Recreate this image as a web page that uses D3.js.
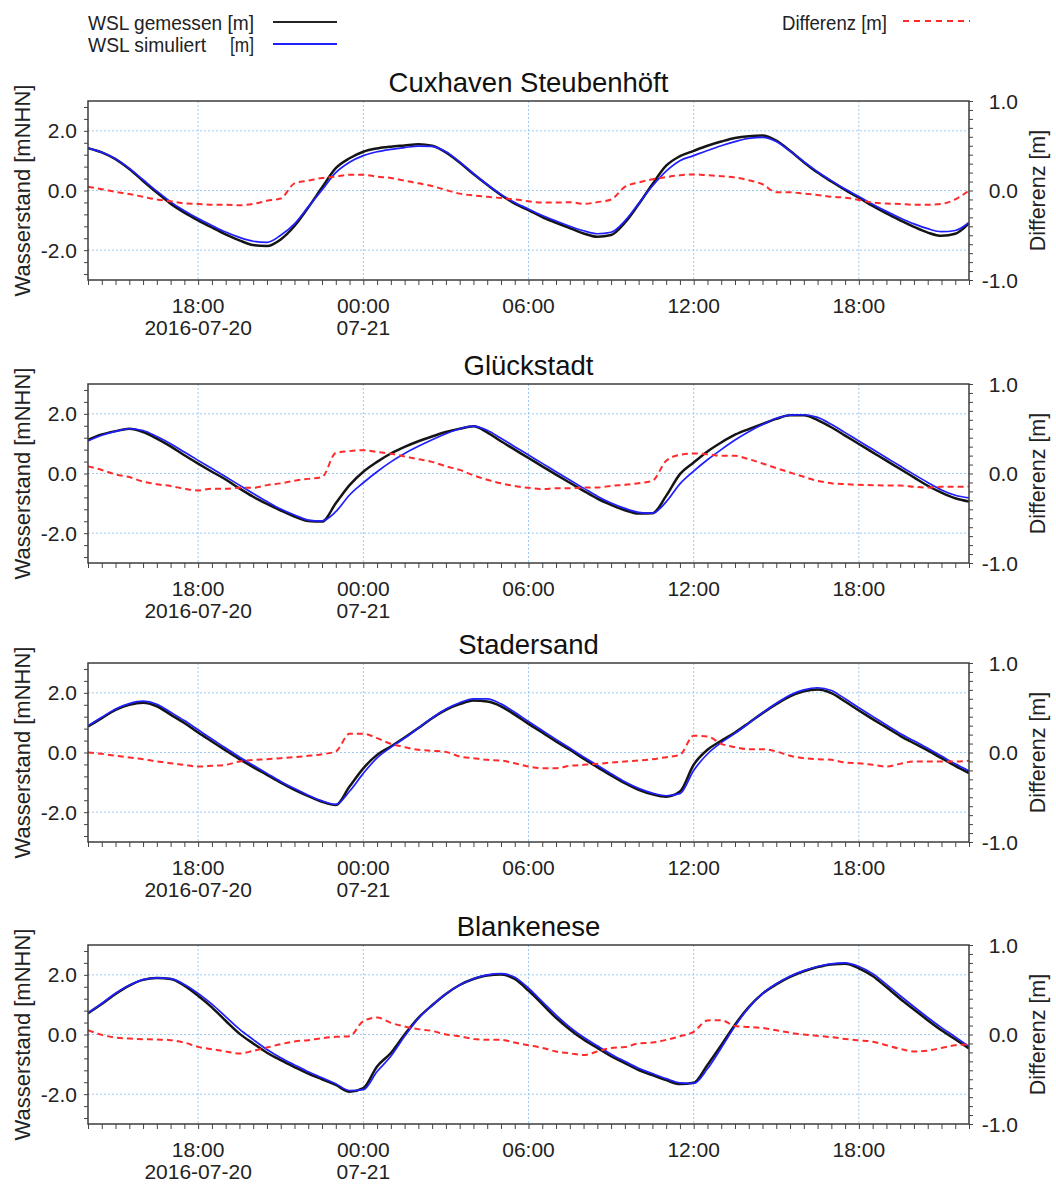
<!DOCTYPE html>
<html>
<head>
<meta charset="utf-8">
<script src="https://cdn.jsdelivr.net/npm/d3@7"></script>
<style>
  body { margin: 0; background: #fff; }
  svg { display: block; font-family: "Liberation Sans", Arial, sans-serif; }
</style>
</head>
<body>
<div id="chart"></div>
<script>
// half-hourly values, 2016-07-20 14:00 .. 2016-07-21 22:00
var startTime = new Date(2016, 6, 20, 14, 0);
var stepMinutes = 30;

var stations = ["Cuxhaven Steubenhöft", "Glückstadt", "Stadersand", "Blankenese"];

var cuxGemessen = [1.42,1.28,1.05,0.72,0.32,-0.07,-0.44,-0.74,-1.00,-1.24,-1.47,-1.67,-1.83,-1.86,-1.64,-1.19,-0.57,0.10,0.75,1.08,1.30,1.41,1.47,1.51,1.55,1.50,1.28,0.94,0.55,0.19,-0.15,-0.44,-0.66,-0.89,-1.08,-1.26,-1.44,-1.55,-1.49,-1.08,-0.46,0.21,0.83,1.15,1.33,1.50,1.64,1.76,1.82,1.84,1.67,1.33,0.95,0.60,0.30,0.02,-0.24,-0.52,-0.77,-1.00,-1.22,-1.41,-1.52,-1.45,-1.10];
var cuxSimuliert = [1.42,1.28,1.06,0.74,0.36,-0.02,-0.38,-0.68,-0.94,-1.17,-1.39,-1.57,-1.70,-1.74,-1.50,-1.12,-0.55,0.02,0.60,0.95,1.17,1.30,1.38,1.44,1.49,1.48,1.30,0.96,0.57,0.20,-0.13,-0.40,-0.62,-0.84,-1.02,-1.20,-1.35,-1.45,-1.40,-1.02,-0.44,0.15,0.65,1.00,1.17,1.34,1.50,1.64,1.75,1.78,1.64,1.32,0.97,0.63,0.33,0.05,-0.20,-0.46,-0.70,-0.92,-1.12,-1.28,-1.38,-1.34,-1.07];
var cuxDiff = [0.04,0.015,-0.015,-0.04,-0.07,-0.10,-0.12,-0.145,-0.15,-0.16,-0.16,-0.165,-0.15,-0.115,-0.09,0.08,0.11,0.14,0.155,0.175,0.175,0.155,0.14,0.11,0.08,0.05,0.005,-0.035,-0.055,-0.07,-0.085,-0.10,-0.12,-0.135,-0.135,-0.13,-0.15,-0.13,-0.10,0.04,0.09,0.125,0.15,0.17,0.18,0.17,0.16,0.145,0.115,0.07,-0.02,-0.02,-0.035,-0.05,-0.07,-0.08,-0.105,-0.135,-0.145,-0.15,-0.16,-0.16,-0.15,-0.10,0.0];

var glueGemessen = [1.13,1.31,1.42,1.50,1.39,1.17,0.91,0.61,0.33,0.06,-0.20,-0.50,-0.78,-1.02,-1.24,-1.44,-1.59,-1.61,-1.00,-0.39,0.06,0.39,0.67,0.89,1.08,1.24,1.39,1.50,1.58,1.38,1.08,0.80,0.52,0.24,-0.04,-0.31,-0.58,-0.84,-1.05,-1.23,-1.34,-1.33,-0.75,-0.02,0.37,0.74,1.04,1.30,1.49,1.66,1.83,1.95,1.95,1.79,1.55,1.27,0.99,0.71,0.43,0.15,-0.13,-0.41,-0.64,-0.83,-0.94];
var glueSimuliert = [1.09,1.28,1.41,1.50,1.44,1.24,1.00,0.72,0.44,0.17,-0.11,-0.39,-0.67,-0.94,-1.19,-1.39,-1.56,-1.59,-1.28,-0.72,-0.31,0.06,0.39,0.67,0.91,1.13,1.33,1.50,1.59,1.45,1.18,0.90,0.62,0.34,0.06,-0.22,-0.49,-0.76,-0.99,-1.17,-1.30,-1.33,-0.95,-0.35,0.08,0.46,0.80,1.12,1.40,1.64,1.85,1.96,1.97,1.88,1.65,1.37,1.09,0.81,0.53,0.25,-0.03,-0.30,-0.55,-0.73,-0.82];
var glueDiff = [0.08,0.04,-0.01,-0.04,-0.09,-0.12,-0.14,-0.17,-0.19,-0.17,-0.17,-0.16,-0.16,-0.13,-0.11,-0.08,-0.06,-0.04,0.23,0.25,0.26,0.24,0.22,0.19,0.16,0.13,0.08,0.04,-0.02,-0.07,-0.11,-0.14,-0.16,-0.175,-0.165,-0.165,-0.157,-0.157,-0.138,-0.127,-0.108,-0.082,0.142,0.209,0.224,0.216,0.198,0.198,0.16,0.112,0.06,0.011,-0.037,-0.082,-0.108,-0.119,-0.127,-0.13,-0.134,-0.134,-0.149,-0.157,-0.149,-0.149,-0.145];

var stadGemessen = [0.87,1.15,1.43,1.60,1.67,1.55,1.27,0.99,0.67,0.37,0.07,-0.22,-0.49,-0.75,-1.01,-1.25,-1.46,-1.65,-1.76,-1.14,-0.53,-0.08,0.20,0.50,0.82,1.15,1.43,1.62,1.74,1.71,1.55,1.27,0.96,0.67,0.37,0.09,-0.21,-0.49,-0.77,-1.03,-1.25,-1.40,-1.48,-1.31,-0.41,0.09,0.39,0.67,0.99,1.32,1.62,1.88,2.05,2.11,1.99,1.71,1.41,1.12,0.84,0.56,0.31,0.07,-0.19,-0.45,-0.69];
var stadSimuliert = [0.90,1.18,1.46,1.64,1.72,1.62,1.35,1.07,0.76,0.45,0.15,-0.15,-0.43,-0.70,-0.97,-1.21,-1.43,-1.62,-1.74,-1.30,-0.70,-0.18,0.17,0.48,0.82,1.16,1.46,1.67,1.80,1.80,1.63,1.35,1.04,0.74,0.44,0.15,-0.15,-0.43,-0.71,-0.98,-1.20,-1.36,-1.45,-1.38,-0.60,-0.05,0.33,0.64,0.98,1.33,1.65,1.93,2.10,2.17,2.08,1.80,1.50,1.21,0.92,0.64,0.39,0.14,-0.12,-0.38,-0.62];
var stadDiff = [0,-0.015,-0.037,-0.056,-0.075,-0.10,-0.12,-0.138,-0.157,-0.149,-0.138,-0.10,-0.082,-0.075,-0.063,-0.052,-0.037,-0.019,0.011,0.209,0.209,0.16,0.097,0.06,0.03,0.019,0.007,-0.045,-0.063,-0.082,-0.09,-0.12,-0.157,-0.175,-0.175,-0.149,-0.138,-0.127,-0.112,-0.10,-0.09,-0.075,-0.052,-0.026,0.187,0.179,0.097,0.06,0.037,0.037,0.011,-0.037,-0.063,-0.075,-0.082,-0.112,-0.12,-0.138,-0.157,-0.127,-0.10,-0.10,-0.10,-0.10,-0.093];

var blanGemessen = [0.71,1.02,1.36,1.64,1.83,1.89,1.86,1.64,1.30,0.91,0.46,0.03,-0.30,-0.61,-0.86,-1.09,-1.31,-1.50,-1.69,-1.92,-1.80,-1.07,-0.62,0.00,0.56,0.98,1.36,1.66,1.86,1.98,2.01,1.86,1.47,1.02,0.56,0.17,-0.17,-0.45,-0.73,-0.96,-1.19,-1.36,-1.53,-1.66,-1.62,-1.02,-0.36,0.33,0.92,1.37,1.68,1.93,2.12,2.26,2.35,2.37,2.22,1.96,1.59,1.20,0.84,0.48,0.14,-0.16,-0.47];
var blanSimuliert = [0.73,1.04,1.38,1.65,1.84,1.90,1.87,1.68,1.38,1.02,0.60,0.18,-0.17,-0.50,-0.78,-1.02,-1.25,-1.45,-1.65,-1.88,-1.85,-1.24,-0.73,-0.06,0.54,0.98,1.36,1.66,1.87,2.00,2.04,1.92,1.55,1.10,0.65,0.25,-0.09,-0.38,-0.66,-0.90,-1.13,-1.31,-1.48,-1.62,-1.64,-1.15,-0.45,0.28,0.90,1.37,1.70,1.95,2.14,2.28,2.37,2.40,2.28,2.04,1.68,1.30,0.93,0.57,0.23,-0.08,-0.40];
var blanDiff = [0.049,-0.004,-0.034,-0.045,-0.052,-0.056,-0.063,-0.09,-0.138,-0.164,-0.19,-0.213,-0.183,-0.146,-0.108,-0.078,-0.063,-0.041,-0.026,-0.02,0.15,0.19,0.13,0.09,0.06,0.04,0.0,-0.02,-0.05,-0.06,-0.06,-0.09,-0.12,-0.15,-0.19,-0.21,-0.23,-0.19,-0.15,-0.14,-0.10,-0.09,-0.06,-0.02,0.03,0.157,0.16,0.095,0.084,0.073,0.048,0.02,0.0,-0.015,-0.03,-0.05,-0.066,-0.08,-0.12,-0.16,-0.19,-0.18,-0.15,-0.12,-0.11];

var gemessenSeries = [cuxGemessen, glueGemessen, stadGemessen, blanGemessen];
var simuliertSeries = [cuxSimuliert, glueSimuliert, stadSimuliert, blanSimuliert];
var diffSeries = [cuxDiff, glueDiff, stadDiff, blanDiff];

var xTickTimes = [new Date(2016, 6, 20, 18), new Date(2016, 6, 21, 0), new Date(2016, 6, 21, 6), new Date(2016, 6, 21, 12), new Date(2016, 6, 21, 18)];
var xTickLabels = [["18:00", "2016-07-20"], ["00:00", "07-21"], ["06:00"], ["12:00"], ["18:00"]];
var levelTicks = [-2, 0, 2];
var diffTicks = [-1, 0, 1];

var W = 1056, H = 1184;
var plotLeft = 88, plotRight = 969, plotH = 179;
var panelTops = [101, 384, 663, 945];

var svg = d3.select('#chart').append('svg')
  .attr('width', W)
  .attr('height', H);

svg.append('rect').attr('width', W).attr('height', H).attr('fill', '#fff');

var endTime = d3.timeMinute.offset(startTime, stepMinutes * (cuxGemessen.length - 1));
var times = cuxGemessen.map((d, i) => d3.timeMinute.offset(startTime, stepMinutes * i));

var x = d3.scaleTime()
  .domain([startTime, endTime])
  .range([plotLeft, plotRight]);

stations.forEach(function (name, p) {
  var top = panelTops[p];
  var bottom = top + plotH;

  var y = d3.scaleLinear().domain([-3, 3]).range([bottom, top]);
  var yDiff = d3.scaleLinear().domain([-1, 1]).range([bottom, top]);

  var g = svg.append('g');

  // grid
  g.selectAll('.gx').data(xTickTimes).enter().append('line')
    .attr('x1', d => x(d)).attr('x2', d => x(d))
    .attr('y1', top).attr('y2', bottom)
    .attr('stroke', '#9ccaf3').attr('stroke-width', 1)
    .attr('stroke-dasharray', '2,2');
  g.selectAll('.gy').data(levelTicks).enter().append('line')
    .attr('x1', plotLeft).attr('x2', plotRight)
    .attr('y1', d => y(d)).attr('y2', d => y(d))
    .attr('stroke', '#9ccaf3').attr('stroke-width', 1)
    .attr('stroke-dasharray', '2,2');

  // ticks
  var axL = g.append('g').attr('transform', `translate(${plotLeft},0)`)
    .call(d3.axisLeft(y).tickValues(d3.range(-2.8, 2.81, 0.4)).tickSize(4).tickFormat(''));
  var axR = g.append('g').attr('transform', `translate(${plotRight},0)`)
    .call(d3.axisRight(yDiff).tickValues(d3.range(-10, 11).map(k => k / 10)).tickSize(4).tickFormat(''));
  var axB = g.append('g').attr('transform', `translate(0,${bottom})`)
    .call(d3.axisBottom(x).ticks(d3.timeMinute.every(30)).tickSize(5).tickFormat(''));
  [axL, axR, axB].forEach(function (a) {
    a.select('.domain').remove();
    a.selectAll('line').attr('stroke', '#444').attr('stroke-width', 1);
  });

  // lines
  var lineLevel = d3.line().x((d, i) => x(times[i])).y(d => y(d)).curve(d3.curveMonotoneX);
  var lineDiff = d3.line().x((d, i) => x(times[i])).y(d => yDiff(d)).curve(d3.curveMonotoneX);

  var clipId = 'clip' + p;
  g.append('clipPath').attr('id', clipId).append('rect')
    .attr('x', plotLeft).attr('y', top).attr('width', plotRight - plotLeft).attr('height', plotH);

  var lines = g.append('g').attr('clip-path', `url(#${clipId})`);
  lines.append('path').datum(gemessenSeries[p])
    .attr('d', lineLevel).attr('fill', 'none')
    .attr('stroke', '#151515').attr('stroke-width', 2.5);
  lines.append('path').datum(simuliertSeries[p])
    .attr('d', lineLevel).attr('fill', 'none')
    .attr('stroke', '#1f1fff').attr('stroke-width', 1.7);
  lines.append('path').datum(diffSeries[p])
    .attr('d', lineDiff).attr('fill', 'none')
    .attr('stroke', '#ff2b2b').attr('stroke-width', 2)
    .attr('stroke-dasharray', '6,4');

  // frame
  g.append('rect')
    .attr('x', plotLeft).attr('y', top)
    .attr('width', plotRight - plotLeft).attr('height', plotH)
    .attr('fill', 'none').attr('stroke', '#3c3c3c').attr('stroke-width', 1.5);

  // tick labels
  g.selectAll('.ly').data(levelTicks).enter().append('text')
    .attr('x', 77).attr('y', d => y(d)).attr('dy', '0.36em')
    .attr('text-anchor', 'end').style('font-size', '21px').attr('fill', '#222')
    .text(d => d.toFixed(1));
  g.selectAll('.ry').data(diffTicks).enter().append('text')
    .attr('x', 1018).attr('y', d => yDiff(d)).attr('dy', '0.36em')
    .attr('text-anchor', 'end').style('font-size', '21px').attr('fill', '#222')
    .text(d => d.toFixed(1));

  xTickTimes.forEach(function (t, k) {
    xTickLabels[k].forEach(function (lab, j) {
      g.append('text')
        .attr('x', x(t)).attr('y', bottom + 33 + j * 22)
        .attr('text-anchor', 'middle').style('font-size', '21px').attr('fill', '#222')
        .text(lab);
    });
  });

  // titles
  g.append('text')
    .attr('x', (plotLeft + plotRight) / 2).attr('y', top - 9)
    .attr('text-anchor', 'middle').style('font-size', '27.5px').attr('fill', '#111')
    .text(name);

  g.append('text')
    .attr('transform', `translate(30,${(top + bottom) / 2}) rotate(-90)`)
    .attr('text-anchor', 'middle').style('font-size', '22px').attr('fill', '#222')
    .text('Wasserstand [mNHN]');
  g.append('text')
    .attr('transform', `translate(1045,${(top + bottom) / 2}) rotate(-90)`)
    .attr('text-anchor', 'middle').style('font-size', '21.5px').attr('fill', '#222')
    .text('Differenz [m]');
});

// legend
var legend = svg.append('g').style('font-size', '21px').attr('fill', '#222');
legend.append('text').attr('x', 88).attr('y', 30)
  .attr('textLength', 166).attr('lengthAdjust', 'spacingAndGlyphs').text('WSL gemessen [m]');
legend.append('text').attr('x', 88).attr('y', 52)
  .attr('textLength', 118).attr('lengthAdjust', 'spacingAndGlyphs').text('WSL simuliert');
legend.append('text').attr('x', 230).attr('y', 52)
  .attr('textLength', 24).attr('lengthAdjust', 'spacingAndGlyphs').text('[m]');
legend.append('text').attr('x', 782).attr('y', 30)
  .attr('textLength', 105).attr('lengthAdjust', 'spacingAndGlyphs').text('Differenz [m]');

legend.append('line').attr('x1', 273).attr('x2', 337).attr('y1', 22).attr('y2', 22)
  .attr('stroke', '#222').attr('stroke-width', 2);
legend.append('line').attr('x1', 273).attr('x2', 337).attr('y1', 44).attr('y2', 44)
  .attr('stroke', '#1f1fff').attr('stroke-width', 2);
legend.append('line').attr('x1', 903).attr('x2', 970).attr('y1', 21).attr('y2', 21)
  .attr('stroke', '#ff2b2b').attr('stroke-width', 2).attr('stroke-dasharray', '6,5');
</script>
</body>
</html>
